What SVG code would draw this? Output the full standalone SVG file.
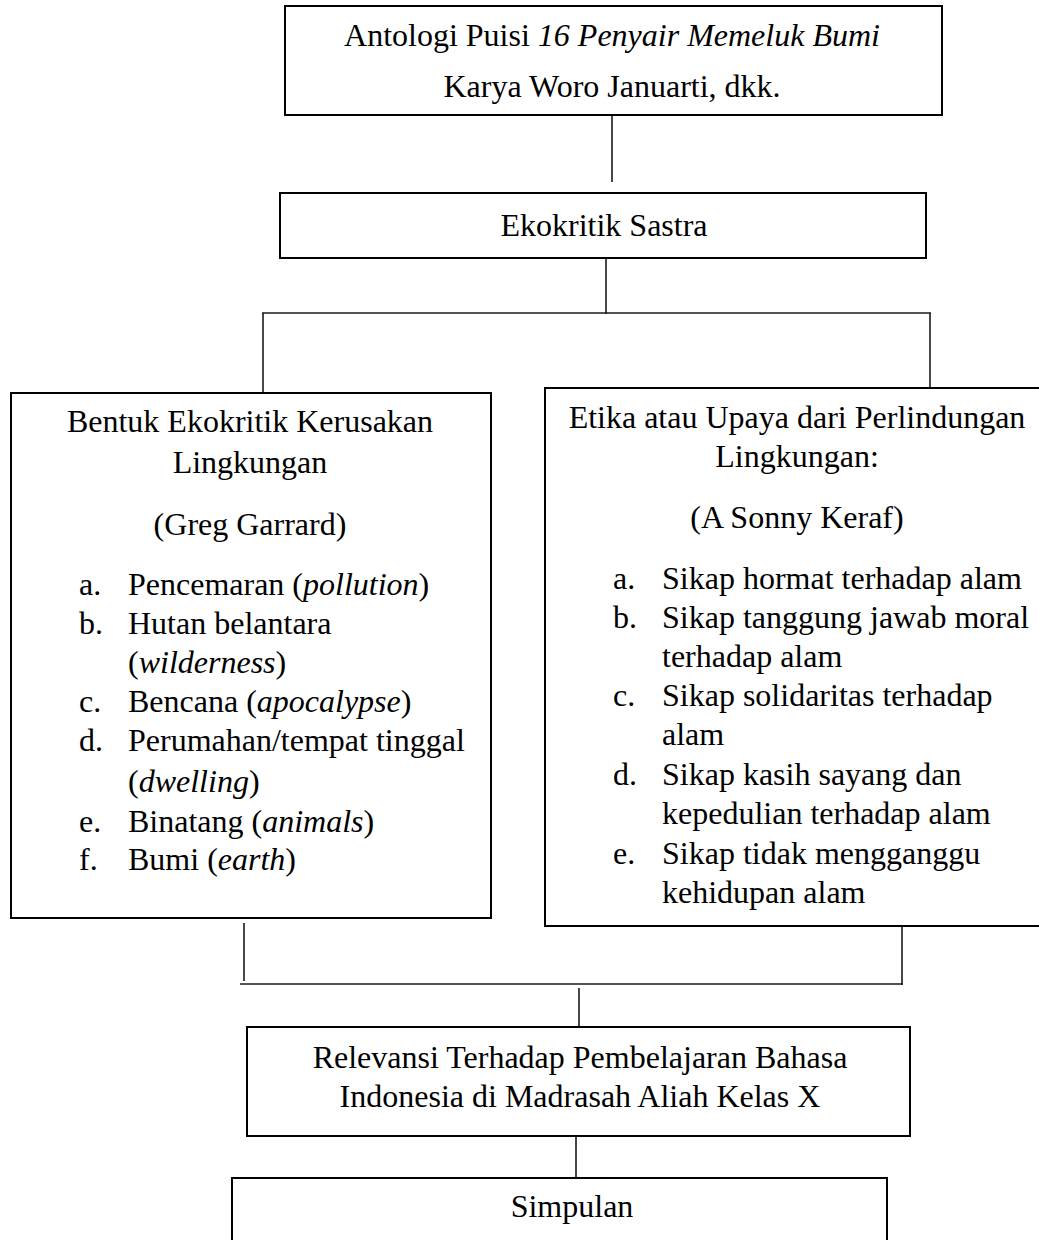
<svg xmlns="http://www.w3.org/2000/svg" width="1039" height="1240" viewBox="0 0 1039 1240">
<style>
.box{fill:#fff;stroke:#000;stroke-width:2}
.ln{stroke:#1a1a1a;stroke-width:1.6;fill:none}
text{font-family:"Liberation Serif","Times New Roman",serif;font-size:32px;fill:#000}
.c{text-anchor:middle}
.i{font-style:italic}
</style>
<rect width="1039" height="1240" fill="#fff"/>
<g id="connectors">
<line class="ln" x1="612" y1="116" x2="612" y2="182"/>
<line class="ln" x1="606" y1="259" x2="606" y2="314"/>
<line class="ln" x1="262" y1="313" x2="931" y2="313"/>
<line class="ln" x1="263" y1="313" x2="263" y2="393"/>
<line class="ln" x1="930" y1="313" x2="930" y2="388"/>
<line class="ln" x1="244" y1="923" x2="244" y2="981"/>
<line class="ln" x1="902" y1="927" x2="902" y2="985"/>
<line class="ln" x1="240" y1="984" x2="903" y2="984"/>
<line class="ln" x1="579" y1="988" x2="579" y2="1027"/>
<line class="ln" x1="576" y1="1137" x2="576" y2="1178"/>
</g>
<g id="node-antologi">
<rect class="box" x="285" y="6" width="657" height="109"/>
<text class="c" x="612" y="46">Antologi Puisi <tspan class="i">16 Penyair Memeluk Bumi</tspan></text>
<text class="c" x="612" y="97">Karya Woro Januarti, dkk.</text>
</g>
<g id="node-ekokritik">
<rect class="box" x="280" y="193" width="646" height="65"/>
<text class="c" x="604" y="236">Ekokritik Sastra</text>
</g>
<g id="node-bentuk">
<rect class="box" x="11" y="393" width="480" height="525"/>
<text class="c" x="250" y="432">Bentuk Ekokritik Kerusakan</text>
<text class="c" x="250" y="473">Lingkungan</text>
<text class="c" x="250" y="535">(Greg Garrard)</text>
<text x="79" y="595">a.</text><text x="128" y="595">Pencemaran (<tspan class="i">pollution</tspan>)</text>
<text x="79" y="634">b.</text><text x="128" y="634">Hutan belantara</text>
<text x="128" y="673">(<tspan class="i">wilderness</tspan>)</text>
<text x="79" y="712">c.</text><text x="128" y="712">Bencana (<tspan class="i">apocalypse</tspan>)</text>
<text x="79" y="751">d.</text><text x="128" y="751">Perumahan/tempat tinggal</text>
<text x="128" y="792">(<tspan class="i">dwelling</tspan>)</text>
<text x="79" y="832">e.</text><text x="128" y="832">Binatang (<tspan class="i">animals</tspan>)</text>
<text x="79" y="870">f.</text><text x="128" y="870">Bumi (<tspan class="i">earth</tspan>)</text>
</g>
<g id="node-etika">
<rect class="box" x="545" y="388" width="505" height="538"/>
<text class="c" x="797" y="428">Etika atau Upaya dari Perlindungan</text>
<text class="c" x="797" y="467">Lingkungan:</text>
<text class="c" x="797" y="528">(A Sonny Keraf)</text>
<text x="613" y="589">a.</text><text x="662" y="589">Sikap hormat terhadap alam</text>
<text x="613" y="628">b.</text><text x="662" y="628">Sikap tanggung jawab moral</text>
<text x="662" y="667">terhadap alam</text>
<text x="613" y="706">c.</text><text x="662" y="706">Sikap solidaritas terhadap</text>
<text x="662" y="745">alam</text>
<text x="613" y="785">d.</text><text x="662" y="785">Sikap kasih sayang dan</text>
<text x="662" y="824">kepedulian terhadap alam</text>
<text x="613" y="864">e.</text><text x="662" y="864">Sikap tidak mengganggu</text>
<text x="662" y="903">kehidupan alam</text>
</g>
<g id="node-relevansi">
<rect class="box" x="247" y="1027" width="663" height="109"/>
<text class="c" x="580" y="1068">Relevansi Terhadap Pembelajaran Bahasa</text>
<text class="c" x="580" y="1107">Indonesia di Madrasah Aliah Kelas X</text>
</g>
<g id="node-simpulan">
<rect class="box" x="232" y="1178" width="655" height="70"/>
<text class="c" x="572" y="1217">Simpulan</text>
</g>
</svg>
